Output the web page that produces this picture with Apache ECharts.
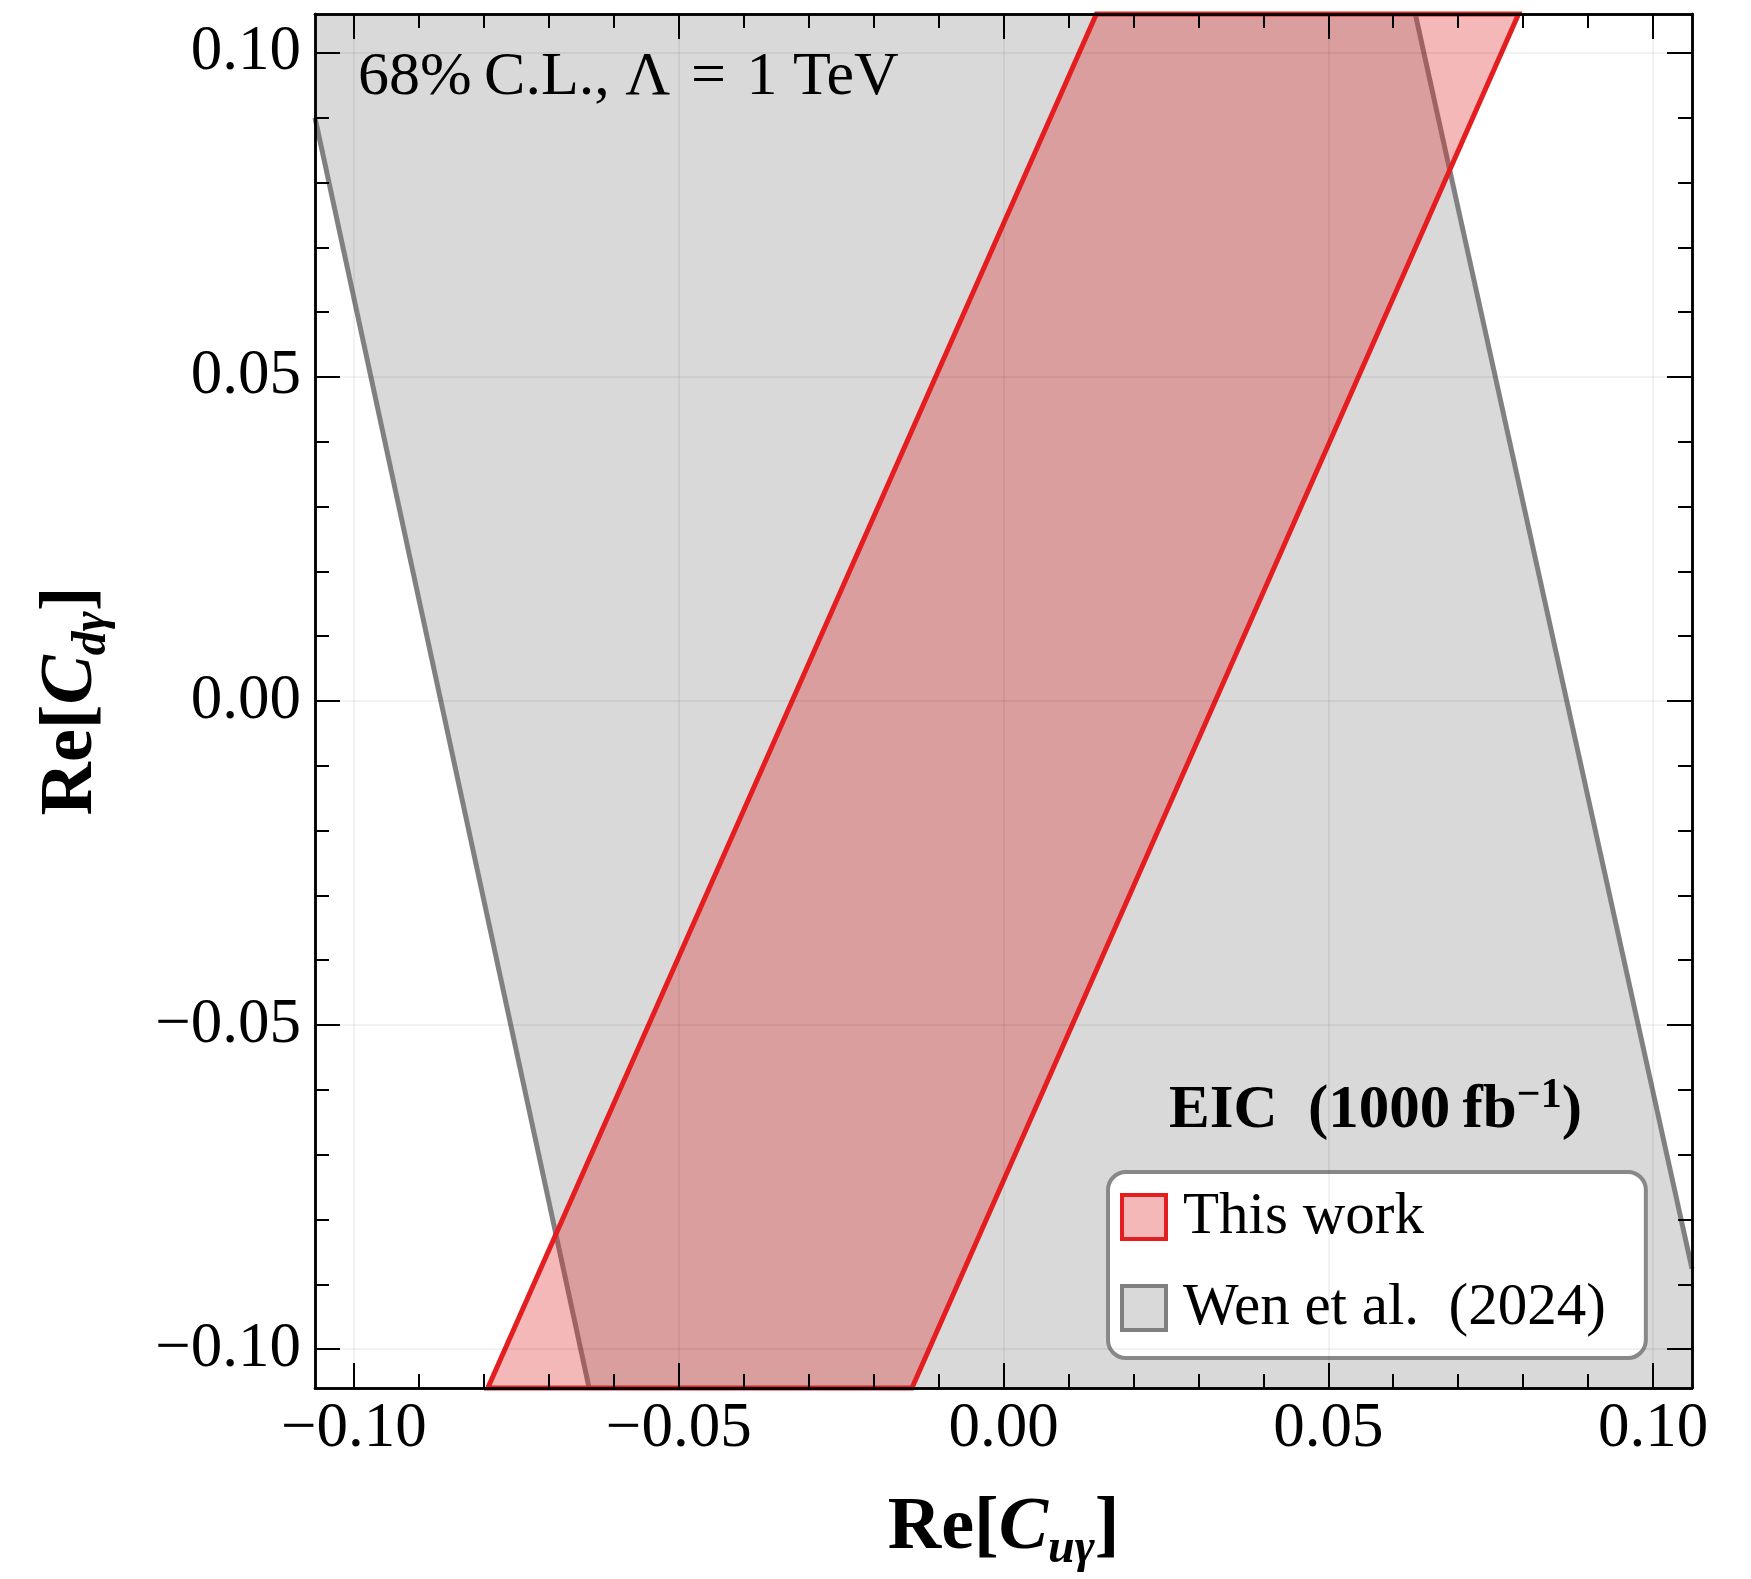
<!DOCTYPE html>
<html>
<head>
<meta charset="utf-8">
<script src="https://cdn.jsdelivr.net/npm/echarts@6/dist/echarts.min.js"></script>
<style>
html,body{margin:0;padding:0;background:#fff;}
#chart{width:1751px;height:1579px;}
</style>
</head>
<body>
<div id="chart"></div>
<script>
// ---- axis ranges & ticks ----
const xRange = [-0.106, 0.106];
const yRange = [-0.106, 0.106];
const majorTicks = [-0.10, -0.05, 0.00, 0.05, 0.10];
const minorTicks = [-0.09, -0.08, -0.07, -0.06, -0.04, -0.03, -0.02, -0.01,
                    0.01, 0.02, 0.03, 0.04, 0.06, 0.07, 0.08, 0.09];

// ---- "This work" 68% C.L. band (vertices) ----
const thisWorkX = [-0.0794, 0.0143, 0.0793, -0.0141];
const thisWorkY = [-0.106, 0.106, 0.106, -0.106];

// ---- "Wen et al. (2024)" band (vertices of region inside the frame) ----
const wenBandX = [-0.106, -0.0638, 0.106, 0.106, 0.0634, -0.106];
const wenBandY = [0.090, -0.106, -0.106, -0.0876, 0.106, 0.106];
// its two boundary lines
const wenLeftX = [-0.106, -0.0638];
const wenLeftY = [0.090, -0.106];
const wenRightX = [0.0634, 0.106];
const wenRightY = [0.106, -0.0876];

const FONT = '"Liberation Serif", "DejaVu Serif", serif';

function fmt(v) {
  return (v < 0 ? '\u2212' : '') + Math.abs(v).toFixed(2);
}
function pairs(xs, ys) { return xs.map((x, i) => [x, ys[i]]); }

function polySeries(name, xs, ys, style, z) {
  const data = pairs(xs, ys);
  return {
    type: 'custom', name: name, z: z, data: data, silent: true,
    renderItem: function (params, api) {
      if (params.dataIndex !== 0) return null;
      const pts = data.map(p => api.coord(p));
      return { type: 'polygon', shape: { points: pts }, style: style };
    }
  };
}
function lineSeries(xs, ys, z) {
  return {
    type: 'line', z: z, data: pairs(xs, ys), showSymbol: false, silent: true,
    lineStyle: { color: '#808080', width: 5 }
  };
}

const axisLineStyle = { color: '#000', width: 2.5 };
const titleRich = {
  a: { fontFamily: FONT, fontSize: 74, fontWeight: 'bold', color: '#000', lineHeight: 90 },
  c: { fontFamily: FONT, fontSize: 74, fontWeight: 'bold', fontStyle: 'italic', color: '#000', lineHeight: 90 },
  s: { fontFamily: FONT, fontSize: 48, fontWeight: 'bold', fontStyle: 'italic', color: '#000', lineHeight: 50, verticalAlign: 'bottom' }
};

function makeX(position, values, len, main) {
  return {
    type: 'value', position: position, min: xRange[0], max: xRange[1], z: 5,
    axisLine: { show: true, onZero: false, lineStyle: axisLineStyle },
    axisTick: { show: true, inside: true, length: len, customValues: values, lineStyle: { color: '#000', width: 2 } },
    axisLabel: main ? { show: true, customValues: majorTicks, formatter: fmt, fontFamily: FONT, fontSize: 63, color: '#000', margin: 10, lineHeight: 62 } : { show: false },
    splitLine: main ? { show: true, lineStyle: { color: 'rgba(0,0,0,0.07)', width: 1.5 } } : { show: false },
    name: main ? '{a|Re[}{c|C}{s|u\u03b3}{a|]}' : '',
    nameLocation: 'middle', nameGap: 96,
    nameTextStyle: { rich: titleRich }
  };
}
function makeY(position, values, len, main) {
  return {
    type: 'value', position: position, min: yRange[0], max: yRange[1], z: 5,
    axisLine: { show: true, onZero: false, lineStyle: axisLineStyle },
    axisTick: { show: true, inside: true, length: len, customValues: values, lineStyle: { color: '#000', width: 2 } },
    axisLabel: main ? { show: true, customValues: majorTicks, formatter: fmt, fontFamily: FONT, fontSize: 63, color: '#000', margin: 14 } : { show: false },
    splitLine: main ? { show: true, lineStyle: { color: 'rgba(0,0,0,0.07)', width: 1.5 } } : { show: false },
    name: main ? '{a|Re[}{c|C}{s|d\u03b3}{a|]}' : '',
    nameLocation: 'middle', nameGap: 198,
    nameTextStyle: { rich: titleRich }
  };
}

const chart = echarts.init(document.getElementById('chart'), null, { renderer: 'canvas' });
chart.setOption({
  animation: false,
  backgroundColor: '#fff',
  grid: { left: 315, right: 59, top: 14, bottom: 187, containLabel: false },
  xAxis: [
    makeX('bottom', majorTicks, 25, true),
    makeX('top', majorTicks, 25, false),
    makeX('bottom', minorTicks, 14, false),
    makeX('top', minorTicks, 14, false)
  ],
  yAxis: [
    makeY('left', majorTicks, 25, true),
    makeY('right', majorTicks, 25, false),
    makeY('left', minorTicks, 14, false),
    makeY('right', minorTicks, 14, false)
  ],
  legend: {
    left: 1108, top: 1172, orient: 'vertical', selectedMode: false,
    backgroundColor: '#fff', borderColor: '#888', borderWidth: 4, borderRadius: 18,
    padding: [15, 40, 20, 12], itemGap: 31, itemWidth: 44, itemHeight: 44,
    textStyle: { fontFamily: FONT, fontSize: 59, color: '#000', lineHeight: 60, padding: [0, 0, 0, 12] },
    data: [
      { name: 'This work', icon: 'rect', itemStyle: { color: 'rgba(226,40,40,0.33)', borderColor: '#e41e20', borderWidth: 4 } },
      { name: 'Wen et al.  (2024)', icon: 'rect', itemStyle: { color: '#d9d9d9', borderColor: '#808080', borderWidth: 4 } }
    ]
  },
  graphic: [
    { type: 'text', x: 358, y: 78, z: 10,
      style: { text: '68%\u2009C.L., \u039b\u2004=\u20041 TeV', fontFamily: FONT, fontSize: 62, fill: '#000', verticalAlign: 'middle', align: 'left' } },
    { type: 'text', x: 1169, y: 1111, z: 10,
      style: { text: '{b|EIC\u2002(1000\u2009fb}{p|\u22121}{b|)}', verticalAlign: 'middle', align: 'left',
        rich: {
          b: { fontFamily: FONT, fontSize: 61, fontWeight: 'bold', fill: '#000', lineHeight: 72 },
          p: { fontFamily: FONT, fontSize: 42, fontWeight: 'bold', fill: '#000', lineHeight: 40, verticalAlign: 'top' }
        } } }
  ],
  series: [
    polySeries('Wen et al.  (2024)', wenBandX, wenBandY, { fill: '#d9d9d9' }, 1),
    lineSeries(wenLeftX, wenLeftY, 2),
    lineSeries(wenRightX, wenRightY, 2),
    polySeries('This work', thisWorkX, thisWorkY,
      { fill: 'rgba(226,40,40,0.33)', stroke: '#e41e20', lineWidth: 5, lineJoin: 'miter' }, 3)
  ]
});
</script>
</body>
</html>
